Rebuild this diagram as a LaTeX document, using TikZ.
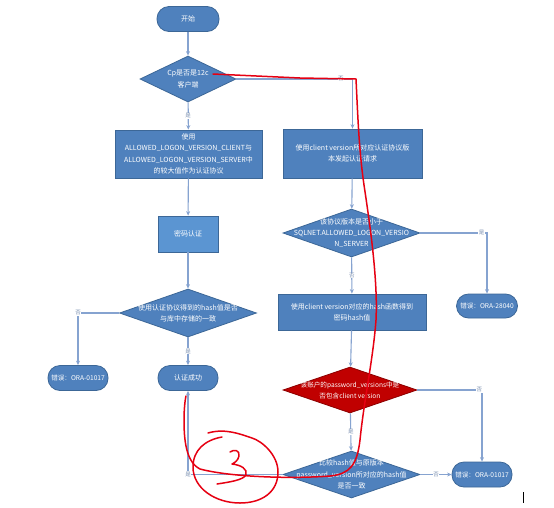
\documentclass[tikz,border=0pt]{standalone}
\usepackage{fontspec}
\newfontfamily\cjk{Noto Sans CJK SC}
\usetikzlibrary{shapes.geometric,arrows.meta}
\definecolor{nodeblue}{HTML}{4F81BD}
\definecolor{nodeedge}{HTML}{3C6797}
\definecolor{lightblue}{HTML}{5B95D2}
\definecolor{connc}{HTML}{86A3D0}
\definecolor{redfill}{HTML}{C00000}
\definecolor{rededge}{HTML}{8C0000}
\definecolor{pen}{HTML}{E60012}
\definecolor{lblc}{HTML}{7A8FB0}
\tikzset{
  txt/.style={font=\cjk\fontsize{7}{11.3}\selectfont, text=white, align=center},
  boxnode/.style={txt, draw=nodeedge, fill=nodeblue, line width=0.8pt, inner sep=0pt},
  termnode/.style={boxnode, rounded corners=12pt, minimum height=25pt},
  errnode/.style={termnode, font=\cjk\fontsize{6.6}{8}\selectfont},
  dianode/.style={draw=nodeedge, fill=nodeblue, line width=0.8pt, diamond, inner sep=0pt},
  reddia/.style={dianode, draw=rededge, fill=redfill},
  conn/.style={draw=connc, line width=1.1pt, -{Stealth[length=4.5pt,width=4pt]}},
  yn/.style={font=\cjk\fontsize{5.5}{6}\selectfont, text=lblc, fill=white, inner sep=0.6pt},
  penline/.style={draw=pen, line width=1.5pt, line cap=round, line join=round}
}
\begin{document}
\begin{tikzpicture}[x=1pt,y=-1pt]
\useasboundingbox (0,0) rectangle (554,507);
\fill[white] (0,0) rectangle (554,507);

% left column
\node[termnode, minimum width=62pt] (start) at (188,19) {开始};
\node[dianode, minimum width=96pt, minimum height=46pt,
  label={[txt]center:Cp是否是12c\\客户端}] (d1) at (188,79) {};
\node[boxnode, minimum width=147pt, minimum height=48pt] (b1) at (188.5,154)
  {使用\\ALLOWED\_LOGON\_VERSION\_CLIENT与\\ALLOWED\_LOGON\_VERSION\_SERVER中\\的较大值作为认证协议};
\node[boxnode, fill=lightblue, minimum width=60pt, minimum height=36pt] (b2) at (188,234) {密码认证};
\node[dianode, minimum width=137pt, minimum height=48pt,
  label={[txt]center:使用认证协议得到的hash值是否\\与库中存储的一致}] (d2) at (188,313) {};
\node[errnode, minimum width=60pt] (err1) at (78,378) {错误：ORA-01017};
\node[termnode, minimum width=60pt] (ok) at (188,378) {认证成功};

% right column
\node[boxnode, minimum width=139pt, minimum height=49pt] (b3) at (352.5,153.5)
  {使用client version所对应认证协议版\\本发起认证请求};
\node[dianode, minimum width=137pt, minimum height=48pt,
  label={[txt]center:该协议版本是否小于\\SQLNET.ALLOWED\_LOGON\_VERSIO\\N\_SERVER}] (d3) at (351.5,233) {};
\node[errnode, minimum width=61pt, minimum height=24pt] (err2) at (487,306) {错误：ORA-28040};
\node[boxnode, minimum width=148pt, minimum height=36pt] (b4) at (352,312)
  {使用client version对应的hash函数得到\\密码hash值};
\node[reddia, minimum width=134pt, minimum height=46pt,
  label={[txt, font=\cjk\fontsize{6.6}{11}\selectfont]center:该账户的password\_versions中是\\否包含client version}] (rd) at (350,390) {};
\node[dianode, minimum width=137pt, minimum height=47pt,
  label={[txt]center:比较hash值与原版本\\password\_version所对应的hash值\\是否一致}] (d4) at (351.5,474.5) {};
\node[errnode, minimum width=60pt, minimum height=25pt] (err3) at (482,474.5) {错误：ORA-01017};

% connectors
\draw[conn] (start) -- (d1);
\draw[conn] (d1) -- node[yn]{是} (b1);
\draw[conn] (d1.east) -| node[yn, pos=0.45]{否} (b3.north);
\draw[conn] (b1) -- (b2);
\draw[conn] (b2) -- (d2);
\draw[conn] (d2.west) -| node[yn, pos=0.5]{否} (err1.north);
\draw[conn] (d2) -- node[yn]{是} (ok);
\draw[conn] (b3) -- (d3);
\draw[conn] (d3.east) -| node[yn, pos=0.46]{是} (err2.north);
\draw[conn] (d3) -- node[yn]{否} (b4);
\draw[conn] (b4) -- (rd);
\draw[conn] (rd.east) -| node[yn, pos=0.48]{否} (err3.north);
\draw[conn] (rd) -- node[yn]{是} (d4);
\draw[conn] (d4) -- node[yn]{否} (err3);
\draw[conn] (d4.west) -| node[yn, pos=0.5]{是} (ok.south);

% red hand-drawn annotation
\draw[penline] (213,74) -- (300,78) -- (356,79)
  .. controls (358,120) and (359,150) .. (364,185)
  .. controls (370,225) and (378,280) .. (376,320)
  .. controls (373,360) and (364,400) .. (360,440)
  .. controls (357,465) and (350,474) .. (330,476)
  .. controls (290,479) and (230,477) .. (200,469)
  .. controls (186,462) and (184,440) .. (184,420)
  .. controls (184,410) and (185,400) .. (186,396);
\draw[penline] (208,433) .. controls (225,428) and (240,434) .. (252,438)
  .. controls (262,441) and (278,455) .. (278,472)
  .. controls (278,492) and (262,503) .. (240,503)
  .. controls (215,503) and (193,488) .. (193,467)
  .. controls (193,450) and (205,440) .. (222,437);
\draw[penline] (230,452) .. controls (234,449) and (240,450) .. (239,456)
  .. controls (238,461) and (234,463) .. (232,464)
  .. controls (241,465) and (248,469) .. (246,475)
  .. controls (243,480) and (230,482) .. (217,484);
% text cursor
\draw[black, line width=0.8pt] (523,492) -- (523,503);
\end{tikzpicture}
\end{document}
